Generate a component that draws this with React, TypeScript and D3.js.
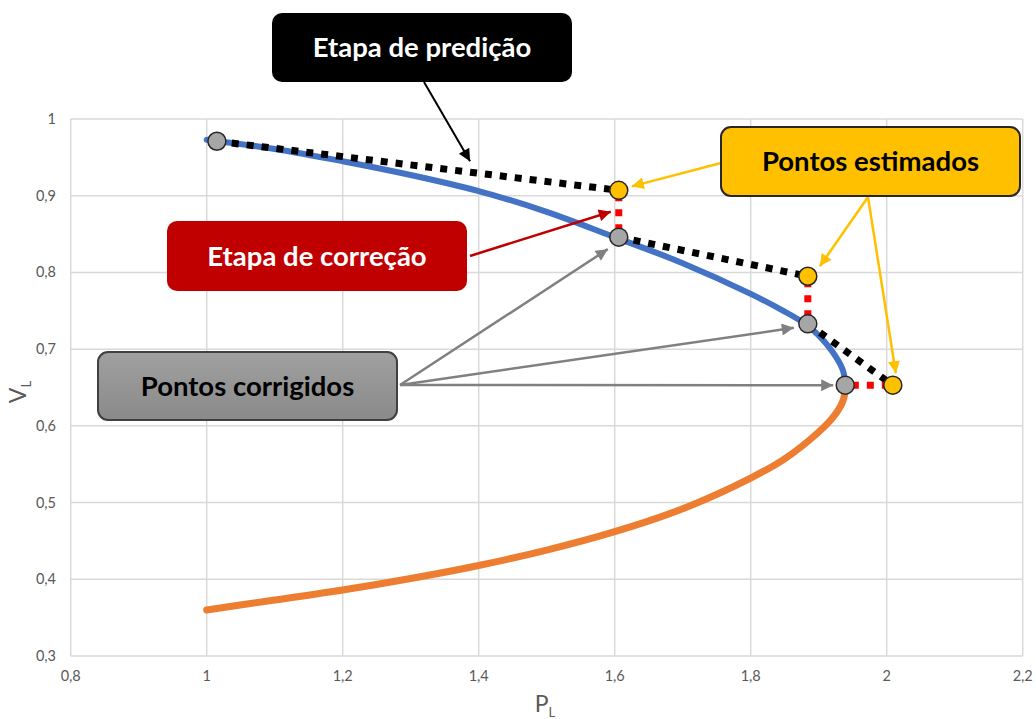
import * as d3 from 'd3'

// P-V curve, upper (stable) branch
const upperP = [1.0, 1.1, 1.2, 1.3, 1.4, 1.5, 1.6, 1.7, 1.8, 1.85, 1.88, 1.9, 1.92, 1.935, 1.94]
const upperV = [0.973, 0.961, 0.945, 0.927, 0.906, 0.879, 0.846, 0.812, 0.772, 0.749, 0.733, 0.718, 0.697, 0.674, 0.652]

// P-V curve, lower branch
const lowerP = [1.0, 1.1, 1.2, 1.3, 1.4, 1.5, 1.6, 1.7, 1.8, 1.85, 1.9, 1.92, 1.935, 1.94]
const lowerV = [0.36, 0.373, 0.386, 0.401, 0.418, 0.438, 0.462, 0.492, 0.532, 0.557, 0.592, 0.61, 0.631, 0.652]

// corrected points (grey) and estimated points (yellow)
const corrP = [1.015, 1.606, 1.884, 1.939]
const corrV = [0.971, 0.846, 0.733, 0.653]
const estP = [1.606, 1.884, 2.009]
const estV = [0.907, 0.795, 0.653]

const xTicks = [0.8, 1, 1.2, 1.4, 1.6, 1.8, 2, 2.2]
const yTicks = [0.3, 0.4, 0.5, 0.6, 0.7, 0.8, 0.9, 1]

const W = 1036
const H = 719
const FONT = 'Lato, "Open Sans", sans-serif'

const x = d3.scaleLinear().domain([0.8, 2.2]).range([70.7, 1022.7])
const y = d3.scaleLinear().domain([0.3, 1]).range([656, 119])

const locale = d3.formatLocale({ decimal: ',', thousands: '.', grouping: [3], currency: ['', ''] })
const fmt = locale.format('.2~f')

const line = d3
  .line<[number, number]>()
  .x((d) => x(d[0]))
  .y((d) => y(d[1]))
  .curve(d3.curveCatmullRom)

const upper = upperP.map((p, i) => [p, upperV[i]] as [number, number])
const lower = lowerP.map((p, i) => [p, lowerV[i]] as [number, number])

function Arrow({ x1, y1, x2, y2, color, id, w }: any) {
  return <line x1={x1} y1={y1} x2={x2} y2={y2} stroke={color} strokeWidth={w} markerEnd={`url(#${id})`} />
}

function Box({ x0, y0, w, h, fill, stroke, text, color, grad }: any) {
  return (
    <g>
      <rect x={x0} y={y0} width={w} height={h} rx={10} fill={grad ? 'url(#greyGrad)' : fill} stroke={stroke || 'none'} strokeWidth={stroke ? 2 : 0} />
      <text x={x0 + w / 2} y={y0 + h / 2 + 9.5} textAnchor="middle" fontFamily={FONT} fontWeight="bold" fontSize={27.5} fill={color}>
        {text}
      </text>
    </g>
  )
}

export default function App() {
  const heads = [
    { id: 'hBlack', c: '#000000' },
    { id: 'hRed', c: '#c00000' },
    { id: 'hGrey', c: '#808080' },
    { id: 'hYellow', c: '#ffc000' },
  ]

  const cx = corrP.map((p) => x(p))
  const cy = corrV.map((v) => y(v))
  const ex = estP.map((p) => x(p))
  const ey = estV.map((v) => y(v))

  return (
    <svg width={W} height={H} style={{ position: 'absolute', left: 0, top: 0, background: '#fff' }}>
      <defs>
        {heads.map((h) => (
          <marker key={h.id} id={h.id} viewBox="0 0 10 10" refX={10} refY={5} markerWidth={15} markerHeight={12} markerUnits="userSpaceOnUse" orient="auto">
            <path d="M0,0 L10,5 L0,10 z" fill={h.c} />
          </marker>
        ))}
        <linearGradient id="greyGrad" x1="0" y1="0" x2="0" y2="1">
          <stop offset="0" stopColor="#a0a0a0" />
          <stop offset="1" stopColor="#8a8a8a" />
        </linearGradient>
      </defs>

      {/* grid */}
      <g stroke="#d9d9d9" strokeWidth={1.5}>
        {xTicks.map((t) => (
          <line key={'gx' + t} x1={x(t)} x2={x(t)} y1={y(1)} y2={y(0.3)} />
        ))}
        {yTicks.map((t) => (
          <line key={'gy' + t} x1={x(0.8)} x2={x(2.2)} y1={y(t)} y2={y(t)} />
        ))}
      </g>

      {/* tick labels */}
      <g fontFamily={FONT} fontSize={14.5} fill="#595959">
        {xTicks.map((t) => (
          <text key={'tx' + t} x={x(t)} y={681} textAnchor="middle">
            {fmt(t)}
          </text>
        ))}
        {yTicks.map((t) => (
          <text key={'ty' + t} x={56} y={y(t) + 5} textAnchor="end">
            {fmt(t)}
          </text>
        ))}
      </g>

      {/* axis titles */}
      <text x={545} y={712} textAnchor="middle" fontFamily={FONT} fontSize={23} fill="#595959">
        P<tspan fontSize={13} dy={5}>L</tspan>
      </text>
      <text transform="translate(26,392) rotate(-90)" textAnchor="middle" fontFamily={FONT} fontSize={23} fill="#595959">
        V<tspan fontSize={13} dy={5}>L</tspan>
      </text>

      {/* curves */}
      <path d={line(lower) || ''} fill="none" stroke="#ed7d31" strokeWidth={7} strokeLinecap="round" />
      <path d={line(upper) || ''} fill="none" stroke="#4472c4" strokeWidth={6} strokeLinecap="round" />

      {/* prediction steps (black) */}
      {estP.map((_, i) => (
        <line key={'pred' + i} x1={cx[i]} y1={cy[i]} x2={ex[i]} y2={ey[i]} stroke="#000" strokeWidth={7} strokeDasharray="7,8" />
      ))}
      {/* correction steps (red) */}
      {estP.map((_, i) => (
        <line key={'corr' + i} x1={ex[i]} y1={ey[i]} x2={cx[i + 1]} y2={cy[i + 1]} stroke="#ff0000" strokeWidth={7} strokeDasharray="7,8" strokeDashoffset={-4} />
      ))}

      {/* markers */}
      {corrP.map((_, i) => (
        <circle key={'cm' + i} cx={cx[i]} cy={cy[i]} r={9} fill="#a6a6a6" stroke="#262626" strokeWidth={1.5} />
      ))}
      {estP.map((_, i) => (
        <circle key={'em' + i} cx={ex[i]} cy={ey[i]} r={9} fill="#ffc000" stroke="#262626" strokeWidth={1.5} />
      ))}

      {/* annotation arrows */}
      <Arrow x1={424} y1={82} x2={cx[0] + 0.63 * (ex[0] - cx[0])} y2={cy[0] + 0.63 * (ey[0] - cy[0]) - 11} color="#000" id="hBlack" w={2} />
      <Arrow x1={470} y1={256} x2={ex[0] - 8} y2={(ey[0] + cy[1]) / 2 - 2} color="#c00000" id="hRed" w={2.5} />
      <Arrow x1={400} y1={385} x2={cx[1] - 11} y2={cy[1] + 12} color="#808080" id="hGrey" w={2.5} />
      <Arrow x1={400} y1={385} x2={cx[2] - 14} y2={cy[2] + 4} color="#808080" id="hGrey" w={2.5} />
      <Arrow x1={400} y1={385} x2={cx[3] - 12} y2={cy[3]} color="#808080" id="hGrey" w={2.5} />
      <Arrow x1={721} y1={163} x2={ex[0] + 13} y2={ey[0] - 4} color="#ffc000" id="hYellow" w={2.5} />
      <Arrow x1={868} y1={197} x2={ex[1] + 12} y2={ey[1] - 10} color="#ffc000" id="hYellow" w={2.5} />
      <Arrow x1={868} y1={197} x2={ex[2] + 3} y2={ey[2] - 12} color="#ffc000" id="hYellow" w={2.5} />

      {/* annotation boxes */}
      <Box x0={272} y0={13} w={300} h={69} fill="#000000" text="Etapa de predição" color="#ffffff" />
      <Box x0={167} y0={221} w={300} h={70} fill="#c00000" text="Etapa de correção" color="#ffffff" />
      <Box x0={98} y0={352} w={299} h={68} grad stroke="#404040" text="Pontos corrigidos" color="#000000" />
      <Box x0={721} y0={127} w={299} h={69} fill="#ffc000" stroke="#262626" text="Pontos estimados" color="#000000" />
    </svg>
  )
}
